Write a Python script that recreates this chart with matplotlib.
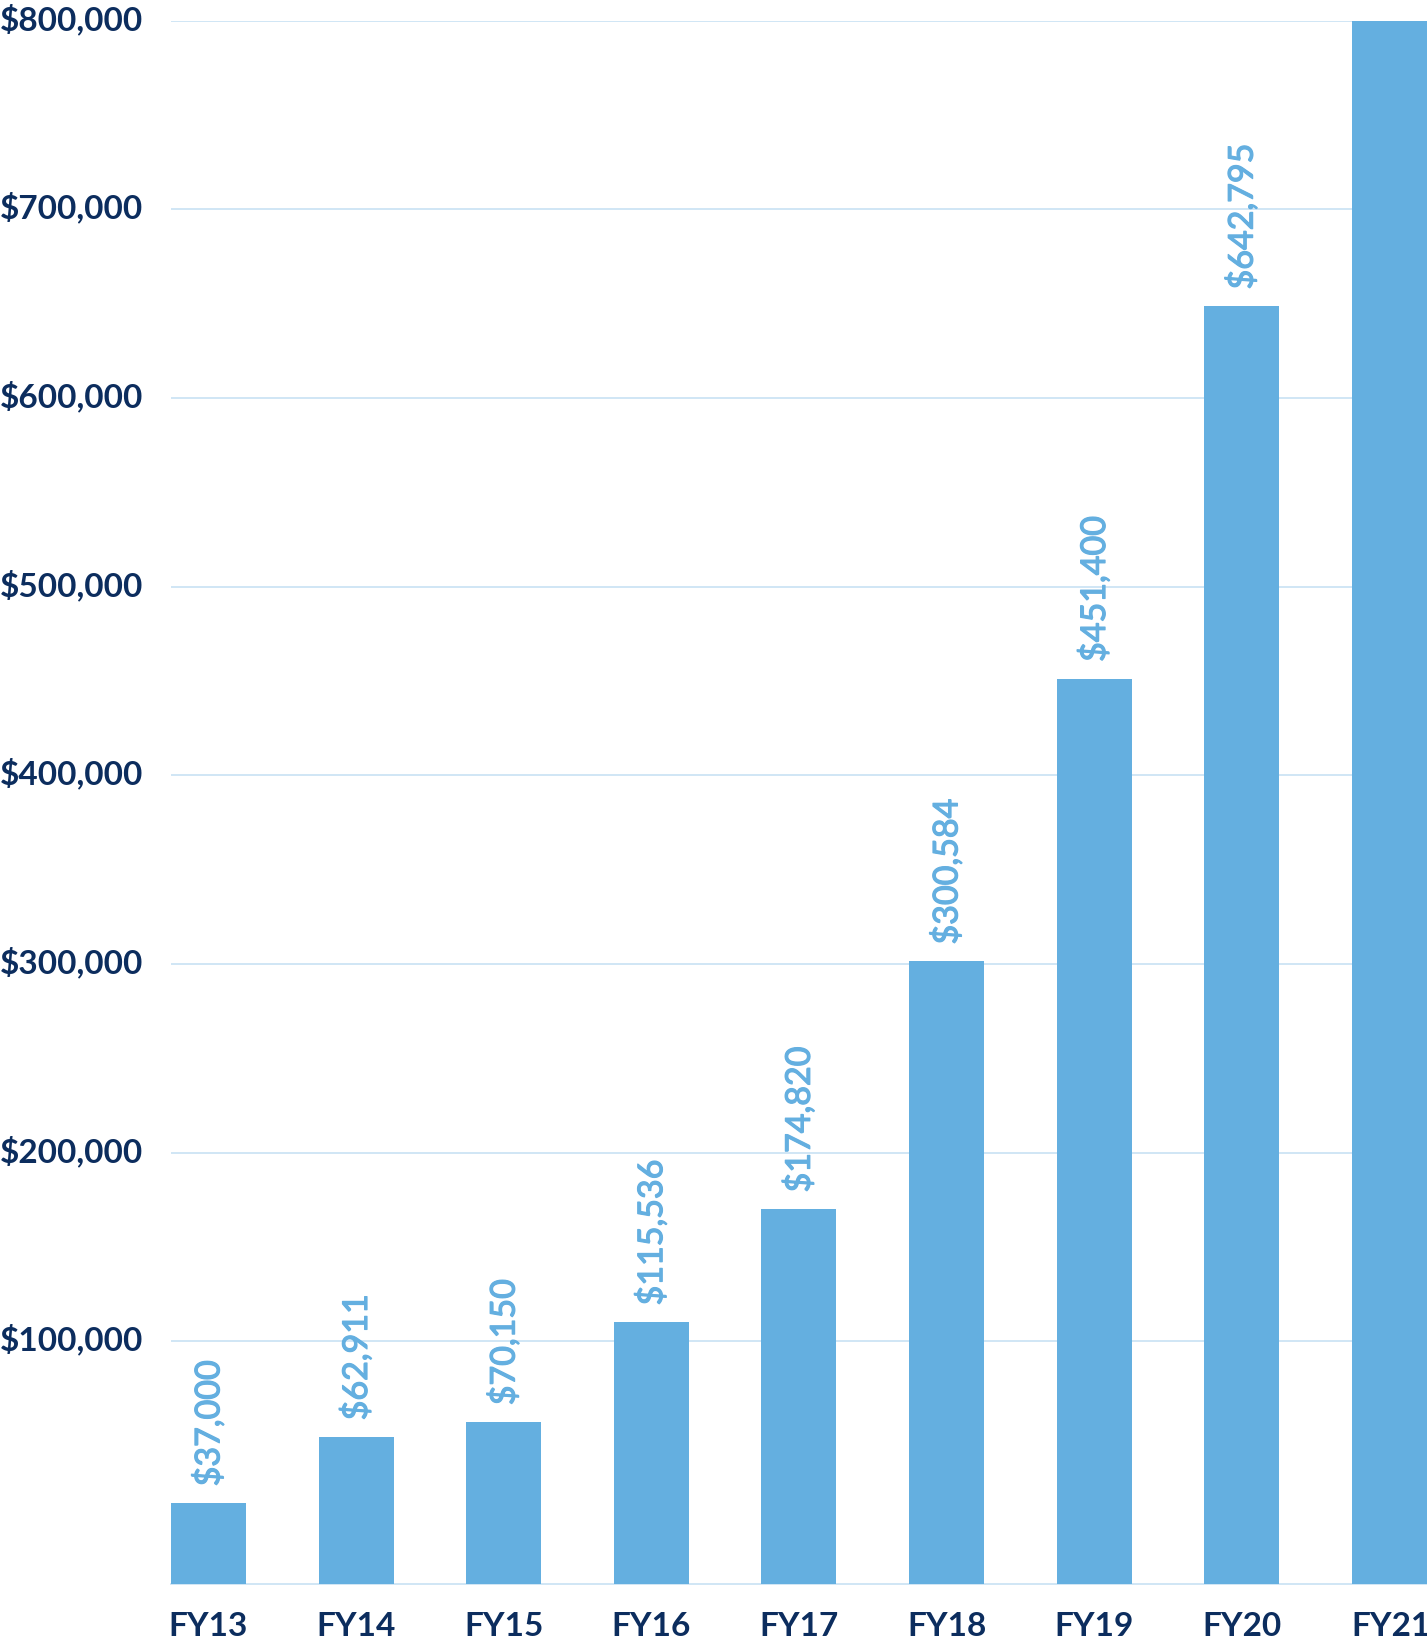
import matplotlib.pyplot as plt
import matplotlib.transforms as mtransforms
import matplotlib.patheffects as pe
import numpy as np

years = ["FY13", "FY14", "FY15", "FY16", "FY17", "FY18", "FY19", "FY20", "FY21/22"]
# bar tops as drawn in the picture (dollars)
bar_tops = [14300, 49300, 57300, 110200, 170100, 301500, 451300, 648700, 800000]
# value labels as printed above the bars
value_labels = ["$37,000", "$62,911", "$70,150", "$115,536", "$174,820",
                "$300,584", "$451,400", "$642,795", ""]
y_ticks = [100000, 200000, 300000, 400000, 500000, 600000, 700000, 800000]

bar_color = "#64afe0"
navy = "#0c2d5e"
grid_color = "#cde4f4"
y_floor = -28600

plt.rcParams['font.family'] = ['Lato', 'DejaVu Sans']

fig = plt.figure(figsize=(14.27, 16.39), dpi=100)
ax = fig.add_axes([0.11983, 0.03356, 0.88017, 0.95381])

x = np.arange(len(years))
tops = np.array(bar_tops)
ax.bar(x, tops - y_floor, bottom=y_floor, width=0.508, color=bar_color, zorder=3)

for xi, top, lab in zip(x, tops, value_labels):
    if lab:
        ax.annotate(lab, (xi, top), xytext=(0, 12), textcoords="offset points",
                    ha="center", va="bottom", rotation=90, fontsize=24.5,
                    color=bar_color, zorder=4,
                    path_effects=[pe.withStroke(linewidth=0.9, foreground=bar_color)])

ax.set_xlim(-0.254, 8.255)
ax.set_ylim(y_floor, 800000)

ax.set_yticks(y_ticks)
ax.set_yticklabels([f"${v:,.0f}" for v in y_ticks])
ax.set_xticks(x)
ax.set_xticklabels(years)

ax.tick_params(axis="y", length=0, pad=20, labelsize=24, labelcolor=navy)
ax.tick_params(axis="x", length=0, pad=20, labelsize=24, labelcolor=navy)
for t in ax.get_yticklabels() + ax.get_xticklabels():
    t.set_fontweight("bold")

# y labels sit a little above their gridlines
lift = mtransforms.ScaledTranslation(0, 4 / 100, fig.dpi_scale_trans)
for t in ax.get_yticklabels():
    t.set_transform(t.get_transform() + lift)

# last label hangs off the right edge, starting at the bar's left side
last = ax.get_xticklabels()[-1]
last.set_ha("left")
last.set_transform(last.get_transform() +
                   mtransforms.ScaledTranslation(-37.5 / 100, 0, fig.dpi_scale_trans))

ax.grid(axis="y", color=grid_color, linewidth=1.3, zorder=0)
ax.set_axisbelow(True)
for side in ["top", "right", "left"]:
    ax.spines[side].set_visible(False)
ax.spines["bottom"].set_color(grid_color)
ax.spines["bottom"].set_linewidth(1.3)

fig.savefig("out.png", dpi=100)
